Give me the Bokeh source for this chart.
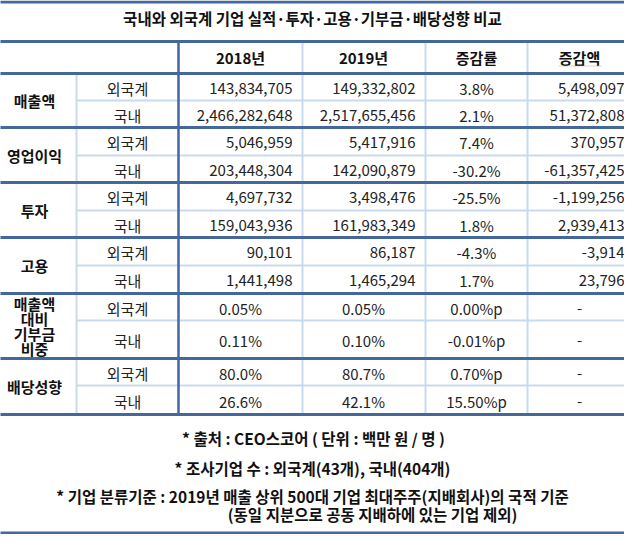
from bokeh.plotting import figure
from bokeh.models import Range1d, ColumnDataSource
from bokeh.core.properties import value
from bokeh.embed import file_html
from bokeh.resources import INLINE

# ---------------- data ----------------
title = "국내와 외국계 기업 실적·투자·고용·기부금·배당성향 비교"
headers = ["2018년", "2019년", "증감률", "증감액"]
categories = ["매출액", "영업이익", "투자", "고용", "매출액\n대비\n기부금\n비중", "배당성향"]
groups = ["외국계", "국내"]
v2018 = ["143,834,705", "2,466,282,648", "5,046,959", "203,448,304", "4,697,732", "159,043,936",
         "90,101", "1,441,498", "0.05%", "0.11%", "80.0%", "26.6%"]
v2019 = ["149,332,802", "2,517,655,456", "5,417,916", "142,090,879", "3,498,476", "161,983,349",
         "86,187", "1,465,294", "0.05%", "0.10%", "80.7%", "42.1%"]
rate = ["3.8%", "2.1%", "7.4%", "-30.2%", "-25.5%", "1.8%", "-4.3%", "1.7%",
        "0.00%p", "-0.01%p", "0.70%p", "15.50%p"]
diff = ["5,498,097", "51,372,808", "370,957", "-61,357,425", "-1,199,256", "2,939,413",
        "-3,914", "23,796", "-", "-", "-", "-"]
notes = ["* 출처 : CEO스코어 ( 단위 : 백만 원 / 명 )",
         "* 조사기업 수 : 외국계(43개), 국내(404개)",
         "* 기업 분류기준 : 2019년 매출 상위 500대 기업 최대주주(지배회사)의 국적 기준",
         "(동일 지분으로 공동 지배하에 있는 기업 제외)"]

# ---------------- layout ----------------
FONT = value("Noto Sans CJK KR")
DARK = "#44679c"
LIGHT = "#c9d9ee"
row_edges = [81, 108, 135, 163, 190, 218, 245, 273, 301, 328, 366, 393, 422]

p = figure(width=624, height=534, output_backend="svg", toolbar_location=None,
           x_range=Range1d(8, 632), y_range=Range1d(542, 8),
           x_axis_location=None, y_axis_location=None, min_border=0)
p.grid.visible = False
p.outline_line_color = None
p.background_fill_color = "white"
p.border_fill_color = "white"

# light lines
lx0, lx1, ly0, ly1 = [], [], [], []
for i in range(len(categories)):
    y = row_edges[2 * i + 1]
    lx0.append(84); lx1.append(640); ly0.append(y); ly1.append(y)
lx0.append(84); lx1.append(84); ly0.append(81); ly1.append(422)
for x in [310, 433, 535]:
    lx0.append(x); lx1.append(x); ly0.append(49); ly1.append(422)
p.segment(x0=lx0, y0=ly0, x1=lx1, y1=ly1, line_color=LIGHT, line_width=2)

# dark lines
dy = [49, 81] + [row_edges[2 * i + 2] for i in range(len(categories))]
p.segment(x0=[0] * len(dy), y0=dy, x1=[640] * len(dy), y1=dy, line_color=DARK, line_width=3)
p.segment(x0=[186], y0=[49], x1=[186], y1=[422], line_color=DARK, line_width=2.5)
p.segment(x0=[0, 0], y0=[9.5, 540.5], x1=[640, 640], y1=[9.5, 540.5], line_color=DARK, line_width=3)

# title and headers
p.text(x=[320], y=[25], text=[title], text_align="center", text_baseline="middle",
       text_font=FONT, text_font_size="15.5px", text_font_style="bold", text_color="#111111")
p.text(x=[248, 371, 484, 587], y=[65] * 4, text=headers, text_align="center", text_baseline="middle",
       text_font=FONT, text_font_size="15px", text_font_style="bold", text_color="#111111")
# spell-check squiggle under the last header
p.segment(x0=[566], y0=[73.5], x1=[609], y1=[73.5], line_color="#e8a060", line_width=1, line_dash="1 1")

# category labels
cx, cy, ct = [], [], []
for i, c in enumerate(categories):
    lines = c.split("\n")
    mid = (row_edges[2 * i] + row_edges[2 * i + 2]) / 2
    n = len(lines)
    for k, ln in enumerate(lines):
        cx.append(42); cy.append(mid + (k - (n - 1) / 2) * 14.8); ct.append(ln)
p.text(x=cx, y=cy, text=ct, text_align="center", text_baseline="middle",
       text_font=FONT, text_font_size="15px", text_font_style="bold", text_color="#111111")

# sub labels and values
rows_y = [(row_edges[j] + row_edges[j + 1]) / 2 + 1 for j in range(len(v2018))]
sub = [groups[j % 2] for j in range(len(v2018))]
p.text(x=[135] * len(sub), y=rows_y, text=sub, text_align="center", text_baseline="middle",
       text_font=FONT, text_font_size="15px", text_color="#222222")

def is_pct(s):
    return s.endswith("%") or s.endswith("%p") or s == "-"

def col(vals, right_x, center_x):
    src = ColumnDataSource(dict(
        x=[center_x if is_pct(v) else right_x for v in vals],
        y=rows_y, t=vals,
        a=["center" if is_pct(v) else "right" for v in vals]))
    p.text(x="x", y="y", text="t", text_align="a", text_baseline="middle", source=src,
           text_font=FONT, text_font_size="15px", text_color="#222222")

col(v2018, 300, 248)
col(v2019, 423, 371)
col(rate, 484, 484)
col(diff, 632, 587)

# footnotes
p.text(x=[321, 320, 320, 380], y=[445, 475, 503, 521], text=notes, text_align="center",
       text_baseline="middle", text_font=FONT, text_font_size="15.5px", text_font_style="bold",
       text_color="#111111")

open("out.html", "w").write(file_html(p, INLINE))
